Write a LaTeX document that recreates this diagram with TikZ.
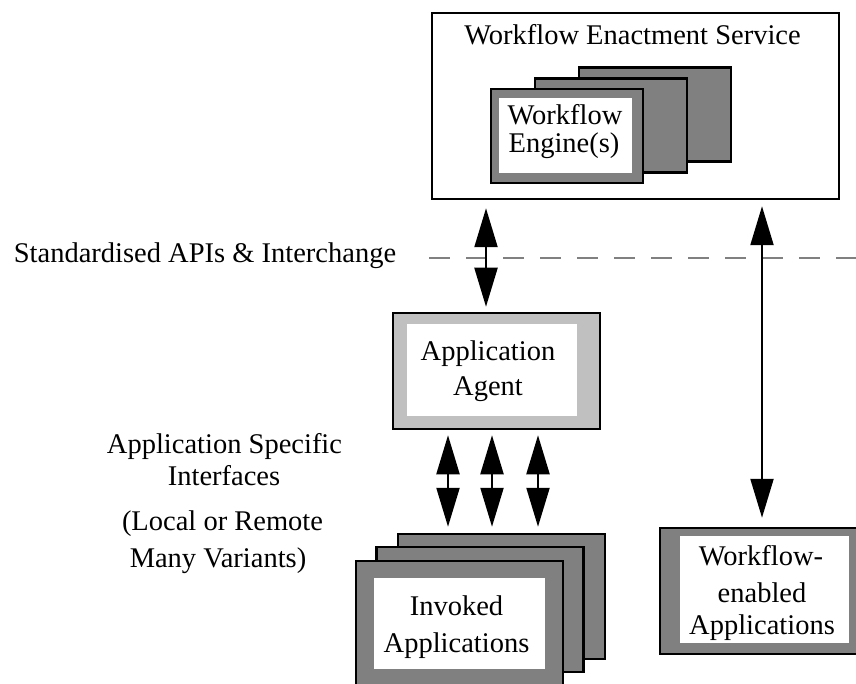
\documentclass[tikz,border=0pt]{standalone}
\usepackage{fontspec}
\setmainfont{Liberation Serif}
\usetikzlibrary{arrows.meta,positioning,calc}
\definecolor{cardgray}{HTML}{808080}
\definecolor{agentgray}{HTML}{C0C0C0}

\tikzset{
  card/.style={draw=black, fill=cardgray, line width=2.5pt, inner sep=0pt},
  plate/.style={fill=white, inner sep=0pt},
  lbl/.style={anchor=base, inner sep=0pt, font=\fontsize{28.5}{34}\selectfont},
  dbl/.style={{Triangle[width=23pt,length=39pt]}-{Triangle[width=23pt,length=39pt]}, line width=2.2pt},
  apiline/.style={draw=cardgray, line width=1.5pt, dash pattern=on 21pt off 16pt},
}

\begin{document}
\begin{tikzpicture}[x=1pt,y=-1pt]
\useasboundingbox (0,0) rectangle (856,684);

% enactment service with its engines
\node[draw, line width=2.5pt, minimum width=407, minimum height=186, inner sep=0pt] (wes) at (635.5,106) {};
\node[lbl] (wesT) at (632.5,45) {Workflow Enactment Service};
\node[card, minimum width=152, minimum height=94] (eng1) at (655,114.5) {};
\node[card, minimum width=152, minimum height=94] (eng2) at (611,125.5) {};
\node[card, minimum width=152, minimum height=94] (eng3) at (567,136) {};
\node[plate, minimum width=133, minimum height=75] (eng3in) at (565.5,135.5) {};
\node[lbl] (engA) at (565,125) {Workflow};
\node[lbl] (engB) at (564,153) {Engine(s)};

% interface line
\node[lbl] (api) at (205,263) {Standardised APIs \& Interchange};
\draw[apiline] (429,258) -- (856,258);

% agent
\node[card, fill=agentgray, minimum width=207, minimum height=116] (agent) at (496.5,371) {};
\node[plate, minimum width=170, minimum height=92] (agentin) at (492,370) {};
\node[lbl] (agA) at (488,360) {Application};
\node[lbl] (agB) at (488,395) {Agent};

% invoked applications
\node[card, minimum width=207, minimum height=125] (inv1) at (501.5,596.5) {};
\node[card, minimum width=207, minimum height=125] (inv2) at (480,609.5) {};
\node[card, minimum width=207, minimum height=125] (inv3) at (459.5,623.5) {};
\node[plate, minimum width=171, minimum height=91] (inv3in) at (459.5,623.5) {};
\node[lbl] (invA) at (456.5,615) {Invoked};
\node[lbl] (invB) at (456.5,652) {Applications};

% workflow-enabled applications
\node[card, minimum width=204, minimum height=126] (wfa) at (762,591) {};
\node[plate, minimum width=169, minimum height=107] (wfain) at (764.5,589.5) {};
\node[lbl] (wfaA) at (761,565) {Workflow-};
\node[lbl] (wfaB) at (762,602) {enabled};
\node[lbl] (wfaC) at (762,634) {Applications};

% side notes
\node[lbl] (asi1) at (224.5,453) {Application Specific};
\node[lbl] (asi2) at (224,485) {Interfaces};
\node[lbl] (lrv1) at (222.5,530) {(Local or Remote};
\node[lbl] (lrv2) at (218,567) {Many Variants)};

% connectors
\draw[dbl, shorten <=8pt, shorten >=5pt] ([xshift=-10.5pt]wes.south -| agent.north) -- ([xshift=-10.5pt]agent.north);
\draw[dbl, shorten <=6pt, shorten >=9pt] (wes.south -| wfa.north) -- (wfa.north);
\foreach \dx in {-48.5,-4.5,41.5}
  \draw[dbl, shorten <=5pt, shorten >=6pt] ([xshift=\dx pt]agent.south) -- ([xshift=\dx pt]agent.south |- inv1.north);
\end{tikzpicture}
\end{document}
